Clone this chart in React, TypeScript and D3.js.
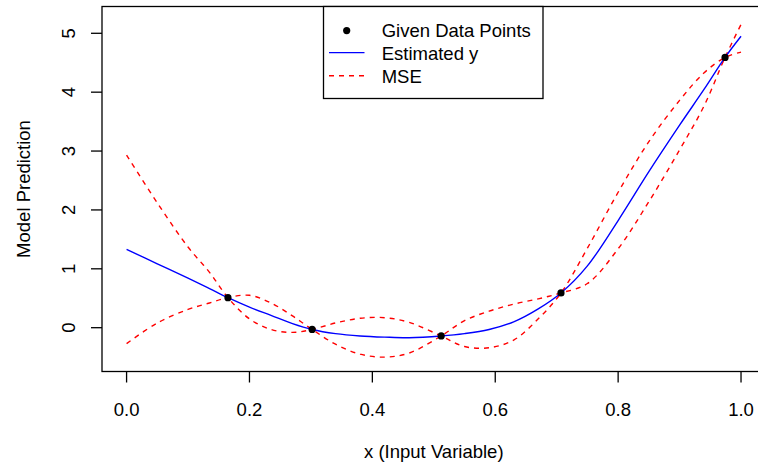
import React from "react";
import * as d3 from "d3";

// ---- data ----
const OBS_X = [0.165, 0.302, 0.512, 0.707, 0.974];
const OBS_Y = [0.51, -0.03, -0.14, 0.59, 4.59];

const X_GRID = [0, 0.05, 0.1, 0.135, 0.165, 0.2, 0.235, 0.27, 0.302, 0.34, 0.38, 0.42, 0.46, 0.512, 0.55, 0.59, 0.63, 0.67, 0.707, 0.75, 0.8, 0.85, 0.9, 0.94, 0.974, 1.0];
const EST_Y = [1.33, 1.085, 0.84, 0.665, 0.51, 0.35, 0.21, 0.07, -0.03, -0.10, -0.14, -0.16, -0.17, -0.14, -0.10, -0.03, 0.10, 0.32, 0.59, 1.05, 1.82, 2.65, 3.44, 4.05, 4.59, 4.95];
const MSE_A = [2.93, 2.12, 1.37, 0.94, 0.51, 0.15, -0.03, -0.08, -0.03, 0.08, 0.16, 0.17, 0.09, -0.14, -0.32, -0.34, -0.21, 0.15, 0.59, 1.35, 2.30, 3.16, 3.86, 4.33, 4.59, 4.68];
const MSE_B = [-0.27, 0.08, 0.31, 0.42, 0.51, 0.55, 0.42, 0.20, -0.03, -0.28, -0.45, -0.50, -0.43, -0.14, 0.12, 0.28, 0.40, 0.49, 0.59, 0.75, 1.34, 2.14, 3.02, 3.77, 4.59, 5.15];

const X_TICKS = [0, 0.2, 0.4, 0.6, 0.8, 1.0];
const X_TICK_LABELS = ["0.0", "0.2", "0.4", "0.6", "0.8", "1.0"];
const Y_TICKS = [0, 1, 2, 3, 4, 5];
const Y_TICK_LABELS = ["0", "1", "2", "3", "4", "5"];

const LEGEND_LABELS = ["Given Data Points", "Estimated y", "MSE"];

// ---- layout ----
const W = 758;
const H = 466;
const PL = 102, PR = 765.6, PT = 6.5, PB = 371.5;
const FONT = "'Liberation Sans', Arial, Helvetica, sans-serif";
const FS = 18.5;

export default function App() {
  const x = d3.scaleLinear().domain([-0.04, 1.04]).range([PL, PR]);
  const y = d3.scaleLinear().domain([-0.744, 5.455]).range([PB, PT]);

  const line = d3
    .line<number>()
    .x((_, i) => x(X_GRID[i]))
    .y((v) => y(v))
    .curve(d3.curveCatmullRom.alpha(0.5));

  const tickLen = 11;

  return (
    <svg
      width={W}
      height={H}
      style={{ position: "absolute", left: 0, top: 0, background: "#fff" }}
      fontFamily={FONT}
    >
      <rect x={0} y={0} width={W} height={H} fill="#fff" />
      <defs>
        <clipPath id="plotclip">
          <rect x={PL} y={PT} width={PR - PL} height={PB - PT} />
        </clipPath>
      </defs>

      <g clipPath="url(#plotclip)">
        <path d={line(MSE_A) || ""} fill="none" stroke="#ff0000" strokeWidth={1.4} strokeDasharray="5,5" />
        <path d={line(MSE_B) || ""} fill="none" stroke="#ff0000" strokeWidth={1.4} strokeDasharray="5,5" />
        <path d={line(EST_Y) || ""} fill="none" stroke="#0000ff" strokeWidth={1.4} />
        {OBS_X.map((v, i) => (
          <circle key={i} cx={x(v)} cy={y(OBS_Y[i])} r={3.6} fill="#000" />
        ))}
      </g>

      {/* box */}
      <rect x={PL} y={PT} width={PR - PL} height={PB - PT} fill="none" stroke="#000" strokeWidth={1.3} />

      {/* x axis */}
      {X_TICKS.map((t, i) => (
        <g key={i}>
          <line x1={x(t)} x2={x(t)} y1={PB} y2={PB + tickLen} stroke="#000" strokeWidth={1.3} />
          <text x={x(t)} y={416} fontSize={FS} textAnchor="middle" fill="#000">
            {X_TICK_LABELS[i]}
          </text>
        </g>
      ))}
      <text x={(PL + PR) / 2} y={458} fontSize={FS} textAnchor="middle" fill="#000">
        x (Input Variable)
      </text>

      {/* y axis */}
      {Y_TICKS.map((t, i) => (
        <g key={i}>
          <line x1={PL} x2={PL - tickLen} y1={y(t)} y2={y(t)} stroke="#000" strokeWidth={1.3} />
          <text
            transform={`translate(75,${y(t)}) rotate(-90)`}
            fontSize={FS}
            textAnchor="middle"
            fill="#000"
          >
            {Y_TICK_LABELS[i]}
          </text>
        </g>
      ))}
      <text
        transform={`translate(29.5,${(PT + PB) / 2}) rotate(-90)`}
        fontSize={FS}
        textAnchor="middle"
        fill="#000"
      >
        Model Prediction
      </text>

      {/* legend */}
      <g>
        <rect x={323.5} y={PT} width={219.5} height={92} fill="#fff" stroke="#000" strokeWidth={1.3} />
        <circle cx={346.7} cy={30.6} r={3.6} fill="#000" />
        <line x1={329} x2={364.5} y1={52.6} y2={52.6} stroke="#0000ff" strokeWidth={1.4} />
        <line x1={329} x2={364.5} y1={75.8} y2={75.8} stroke="#ff0000" strokeWidth={1.4} strokeDasharray="5,5" />
        {LEGEND_LABELS.map((s, i) => (
          <text key={i} x={381.7} y={37 + i * 22.8} fontSize={FS} fill="#000">
            {s}
          </text>
        ))}
      </g>
    </svg>
  );
}
